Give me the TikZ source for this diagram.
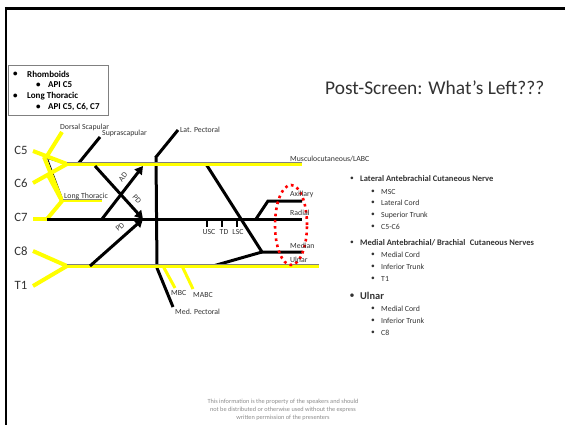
\documentclass[tikz,border=0pt]{standalone}
\usepackage{fontspec}
\setmainfont{Carlito}
\usetikzlibrary{arrows.meta,shapes.geometric}
\definecolor{nervey}{RGB}{255,255,0}
\definecolor{labelgray}{RGB}{50,50,50}
\definecolor{notegray}{RGB}{140,140,140}
\begin{document}
\begin{tikzpicture}[x=1pt,y=-1pt,
  yel/.style={draw=nervey,line width=4pt},
  yelthin/.style={draw=nervey,line width=2.5pt},
  blk/.style={draw=black,line width=3pt},
  hair/.style={draw=black,line width=0.8pt},
  edge/.style={draw=gray,line width=0.7pt},
  division/.style={blk,-{Triangle[length=8pt,width=9pt]}},
  lbl/.style={font=\fontsize{7.8}{9}\selectfont,text=labelgray,inner sep=0pt,anchor=west},
  tick/.style={font=\fontsize{7.8}{9}\selectfont,text=labelgray,inner sep=0pt},
  rootlbl/.style={font=\fontsize{12.7}{14}\selectfont,text=labelgray,inner sep=0pt},
  boxtxt/.style={font=\bfseries\fontsize{9}{10}\selectfont,inner sep=0pt,anchor=west},
  head/.style={font=\bfseries\fontsize{8.5}{10}\selectfont,text=labelgray,inner sep=0pt,anchor=west},
  item/.style={font=\fontsize{7.8}{9}\selectfont,text=labelgray,inner sep=0pt,anchor=west},
  bul/.style={font=\fontsize{7.5}{9}\selectfont,text=labelgray,inner sep=0pt},
]
\useasboundingbox (0,0) rectangle (565,425);
% slide frame
\draw[line width=3pt] (4.8,8.3) -- (565,8.3);
\draw[line width=2.5pt] (6.2,7) -- (6.2,425);

% legend box
\node (legend) [draw=gray,line width=0.8pt,anchor=north west,minimum width=100pt,minimum height=50pt,inner sep=0pt] at (8,65) {};
\node[boxtxt] at (13,74) {•};
\node[boxtxt] (rh) at (27,74) {Rhomboids};
\node[boxtxt] at (36,85) {•};
\node[boxtxt] (rhapi) at (48,85) {API C5};
\node[boxtxt] at (13,96) {•};
\node[boxtxt] (lth) at (27,96) {Long Thoracic};
\node[boxtxt] at (36,107) {•};
\node[boxtxt] (lthapi) at (48,107) {API C5, C6, C7};

% title
\node (title) [font=\fontsize{19.4}{22}\selectfont,text=labelgray,inner sep=0pt,anchor=west] at (325,88) {Post-Screen: What’s Left???};

% ---- roots, trunks and junctions ----
\coordinate (r5) at (33,151);
\coordinate (r6) at (33,183);
\coordinate (r7) at (33,219);
\coordinate (r8) at (33,251);
\coordinate (rt1) at (33,286);
\coordinate (ut) at (67,164);
\coordinate (lt) at (67,266);
\coordinate (mt) at (47,219);
\coordinate (utend) at (302,164);
\coordinate (mtend) at (302,219);
\coordinate (ltend) at (319,266);
\coordinate (dsb) at (47,156);
\coordinate (dst) at (62,132);
\coordinate (c5b) at (44,157);
\coordinate (c6b) at (48,175);
\coordinate (ltj) at (62,201);
\coordinate (ltend2) at (102,201);

\node[rootlbl] (C5) at (21,150) {C5};
\node[rootlbl] (C6) at (21,183) {C6};
\node[rootlbl] (C7) at (21,217) {C7};
\node[rootlbl] (C8) at (21,251) {C8};
\node[rootlbl] (T1) at (21,285) {T1};

% thin strands under the C5 root
\draw[hair] (46,158) -- (67,164.5);
\draw[hair] (47,157) -- (63,200);

% long thoracic
\draw[yel] (c5b) -- (ltj);
\draw[yel] (c6b) -- (ltj);
\draw[yel] (mt) -- (ltj);
\draw[yelthin] (ltj) -- (ltend2);
\draw[edge] (63,199.5) -- (ltend2|-0,199.5);
% dorsal scapular
\draw[yel] (dsb) -- (dst);

% middle trunk
\draw[blk] (mt) -- (mtend);

% roots
\draw[yel] (r5) -- (ut);
\draw[yel] (r6) -- (ut);
\draw[yel] (r7) -- (mt);
\draw[yel] (r8) -- (lt);
\draw[yel] (rt1) -- (lt);

% branches from the upper trunk
\coordinate (ssb) at (78,164);
\coordinate (sst) at (100,137);
\draw[blk] (ssb) -- (sst);
\coordinate (lpb) at (156,157);
\coordinate (lpt) at (178,130);
\coordinate (mpb) at (157,268);
\coordinate (mpt) at (173,307);
\draw[blk] (lpt) -- (lpb) -- (mpb) -- (mpt);

% median nerve
\coordinate (mlat) at (206,164);
\coordinate (mmed) at (213,266);
\coordinate (mj) at (262,252);
\coordinate (mend) at (302,252);
\draw[blk] (mlat) -- (mj) -- (mend);
\draw[blk] (mmed) -- (mj);

% axillary nerve
\coordinate (axb) at (256,219);
\coordinate (axk) at (268,201);
\coordinate (axend) at (302,201);
\draw[blk] (axb) -- (axk) -- (axend);

% subscapular / thoracodorsal twigs
\foreach \x/\n in {207/usc,222/td,237/lsc}{
  \coordinate (\n a) at (\x,219);
  \coordinate (\n b) at (\x,227);
  \draw[line width=2.5pt] (\n a) -- (\n b);
}

% upper and lower trunks
\draw[yel] (ut) -- (utend);
\draw[edge] (67,162.2) -- (utend|-0,162.2);
\draw[yel] (lt) -- (ltend);
\draw[edge] (67,264.2) -- (ltend|-0,264.2);

% medial cutaneous branches
\coordinate (mbcb) at (163,266);
\coordinate (mbct) at (175,288);
\coordinate (mabcb) at (182,266);
\coordinate (mabct) at (193,289);
\draw[yel,line width=3pt] (mbcb) -- (mbct);
\draw[yel,line width=3pt] (mabcb) -- (mabct);

% divisions
\coordinate (adb) at (102,219);
\coordinate (lc) at (143,166);
\coordinate (pdub) at (95,166);
\coordinate (pc) at (143,219);
\coordinate (pdlb) at (90,266);
\draw[division] (adb) -- (lc);
\draw[division] (pdub) -- (pc);
\draw[division] (pdlb) -- (pc);

% red ring around the terminal branches
\node (ring) [draw=red,line width=2.6pt,dash pattern=on 2.6pt off 3.6pt,ellipse,minimum width=32pt,minimum height=80pt,inner sep=0pt] at (291,225) {};

% labels
\node[lbl] (lds) at (60,127) {Dorsal Scapular};
\node[lbl] (lss) at (102,133) {Suprascapular};
\node[lbl] (llp) at (180,130) {Lat. Pectoral};
\node[lbl] (lmc) at (290,159) {Musculocutaneous/LABC};
\node[lbl] (llt) at (64,196) {Long Thoracic};
\node[tick,rotate=52] (lad) at (123,177) {AD};
\node[tick,rotate=-48] (lpd1) at (137,199) {PD};
\node[tick,rotate=42] (lpd2) at (120,227) {PD};
\node[tick] (lusc) at (209,232) {USC};
\node[tick] (ltd) at (224,232) {TD};
\node[tick] (llsc) at (238,232) {LSC};
\node[lbl] (lax) at (290,194) {Axillary};
\node[lbl] (lrad) at (290,213) {Radial};
\node[lbl] (lmed) at (290,246) {Median};
\node[lbl] (luln) at (290,260) {Ulnar};
\node[lbl] (lmbc) at (171,293) {MBC};
\node[lbl] (lmabc) at (193,295) {MABC};
\node[lbl] (lmp) at (175,312) {Med. Pectoral};

% right-hand notes
\node[bul] at (352,179) {•};
\node[head] (n1) at (360,179) {Lateral Antebrachial Cutaneous Nerve};
\node[bul] at (373,192) {•}; \node[item] at (381,192) {MSC};
\node[bul] at (373,203) {•}; \node[item] at (381,203) {Lateral Cord};
\node[bul] at (373,215) {•}; \node[item] at (381,215) {Superior Trunk};
\node[bul] at (373,227) {•}; \node[item] at (381,227) {C5-C6};
\node[bul] at (352,243) {•};
\node[head] (n2) at (360,243) {Medial Antebrachial/ Brachial\hspace{2.5pt} Cutaneous Nerves};
\node[bul] at (373,255) {•}; \node[item] at (381,255) {Medial Cord};
\node[bul] at (373,267) {•}; \node[item] at (381,267) {Inferior Trunk};
\node[bul] at (373,279) {•}; \node[item] at (381,279) {T1};
\node[bul,font=\fontsize{10}{12}\selectfont] at (352,296) {•};
\node[head,font=\bfseries\fontsize{10.4}{12}\selectfont] (n3) at (360,296) {Ulnar};
\node[bul] at (373,309) {•}; \node[item] at (381,309) {Medial Cord};
\node[bul] at (373,321) {•}; \node[item] at (381,321) {Inferior Trunk};
\node[bul] at (373,333) {•}; \node[item] at (381,333) {C8};

% footer
\node (foot) [font=\fontsize{6.3}{8.2}\selectfont,text=notegray,align=center,inner sep=0pt] at (283,410) {This information is the property of the speakers and should\\not be distributed or otherwise used without the express\\written permission of the presenters};
\end{tikzpicture}
\end{document}
